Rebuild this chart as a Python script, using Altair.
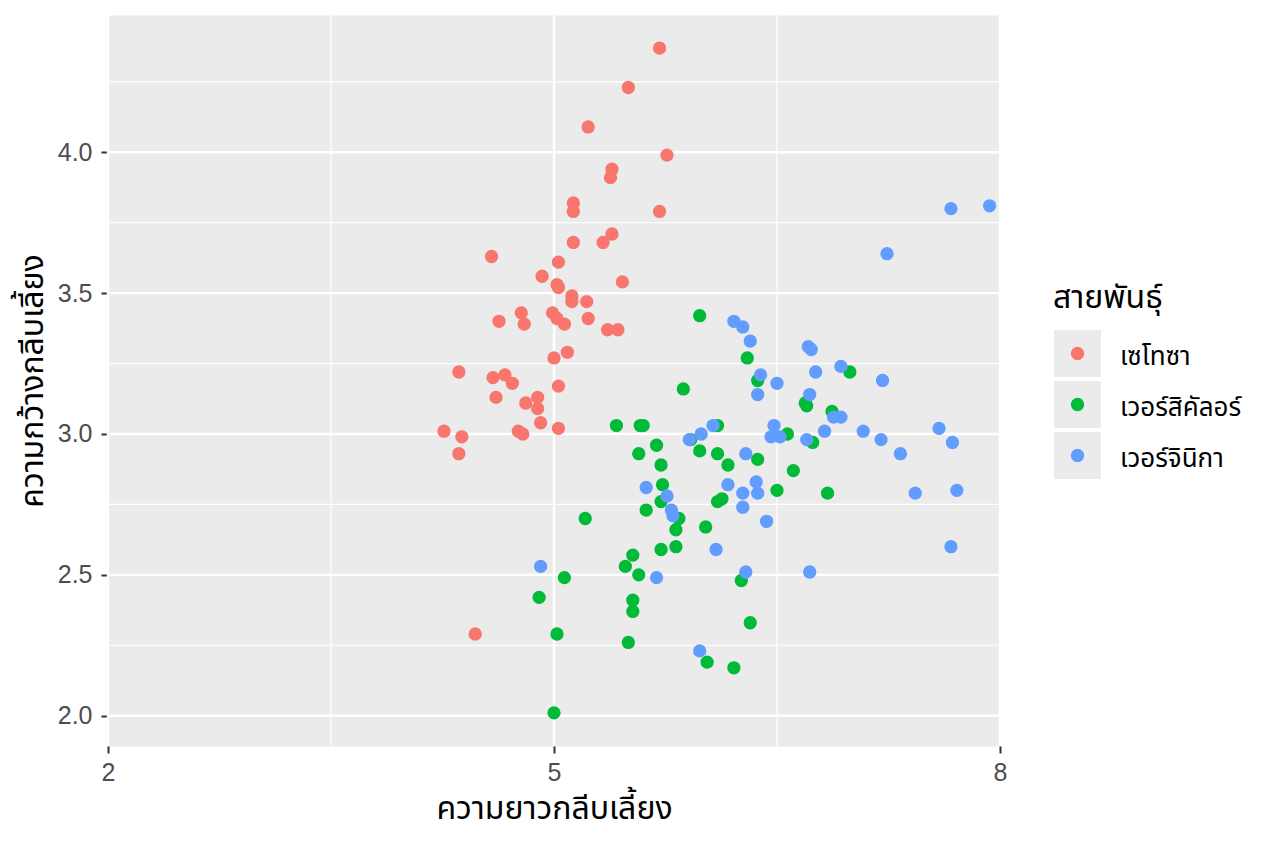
import altair as alt
import pandas as pd

# ---- categories / colours ----
species_names = ["เซโทซา", "เวอร์สิคัลอร์", "เวอร์จินิกา"]
species_colors = ["#F8766D", "#00BA38", "#619CFF"]

# ---- series values (sepal length, sepal width; jittered as in the picture) ----
setosa_x = [5.71, 5.50, 5.23, 5.76, 5.39, 5.38, 5.71, 5.13, 5.13, 5.13,
            5.33, 5.39, 4.58, 5.03, 5.46, 4.92, 5.02, 5.03, 5.12, 5.12,
            5.22, 4.78, 4.99, 5.02, 5.07, 4.80, 4.63, 5.23, 5.36, 5.43,
            5.09, 5.00, 4.36, 4.67, 4.59, 4.72, 5.03, 4.61, 4.81, 4.89,
            4.89, 4.91, 4.76, 4.79, 4.26, 4.38, 5.03, 4.36, 4.47]
setosa_y = [4.37, 4.23, 4.09, 3.99, 3.94, 3.91, 3.79, 3.82, 3.79, 3.68,
            3.68, 3.71, 3.63, 3.61, 3.54, 3.56, 3.53, 3.52, 3.49, 3.47,
            3.47, 3.43, 3.43, 3.41, 3.39, 3.39, 3.40, 3.41, 3.37, 3.37,
            3.29, 3.27, 3.22, 3.21, 3.20, 3.18, 3.17, 3.13, 3.11, 3.13,
            3.09, 3.04, 3.01, 3.00, 3.01, 2.99, 3.02, 2.93, 2.29]

versicolor_x = [5.98, 6.30, 6.37, 5.87, 5.42, 5.58, 5.60, 6.10, 5.92, 6.57,
                6.74, 5.69, 5.57, 5.98, 6.10, 6.17, 6.37, 5.72, 6.61, 5.73,
                6.50, 6.10, 6.13, 5.72, 5.62, 5.84, 5.82, 5.72, 5.82, 6.02,
                6.26, 5.21, 5.53, 5.48, 5.57, 5.07, 4.90, 5.53, 5.53, 5.02,
                5.50, 6.03, 6.21, 5.00, 6.32, 6.69, 6.70, 6.87, 6.84, 6.99]
versicolor_y = [3.42, 3.27, 3.19, 3.16, 3.03, 3.03, 3.03, 3.03, 2.98, 3.00,
                2.97, 2.96, 2.93, 2.94, 2.93, 2.89, 2.91, 2.89, 2.87, 2.82,
                2.80, 2.76, 2.77, 2.76, 2.73, 2.70, 2.66, 2.59, 2.60, 2.67,
                2.48, 2.70, 2.57, 2.53, 2.50, 2.49, 2.42, 2.41, 2.37, 2.29,
                2.26, 2.19, 2.17, 2.01, 2.33, 3.11, 3.10, 3.08, 2.79, 3.22]

virginica_x = [6.21, 6.27, 6.32, 6.71, 6.73, 6.76, 6.39, 6.50, 6.37, 6.72,
               6.07, 5.99, 5.91, 6.48, 6.46, 6.52, 6.70, 6.29, 5.62, 5.76,
               6.17, 6.36, 6.37, 6.27, 5.79, 5.80, 5.69, 6.27, 6.43, 6.09,
               6.29, 6.72, 4.91, 5.98, 6.88, 6.93, 7.21, 6.82, 7.08, 7.20,
               7.33, 7.59, 7.68, 7.43, 7.71, 7.67, 7.67, 7.93, 7.24, 6.93]
virginica_y = [3.40, 3.38, 3.33, 3.31, 3.30, 3.22, 3.21, 3.18, 3.14, 3.14,
               3.03, 3.00, 2.98, 3.03, 2.99, 2.99, 2.98, 2.93, 2.81, 2.78,
               2.82, 2.83, 2.79, 2.79, 2.73, 2.71, 2.49, 2.74, 2.69, 2.59,
               2.51, 2.51, 2.53, 2.23, 3.06, 3.06, 3.19, 3.01, 3.01, 2.98,
               2.93, 3.02, 2.97, 2.79, 2.80, 2.60, 3.80, 3.81, 3.64, 3.24]

# ---- axes / grid values ----
x_domain = [2, 8]
y_domain = [1.8924, 4.4874]
x_major = [2, 5, 8]
x_minor = [3.5, 6.5]
y_major = [2.0, 2.5, 3.0, 3.5, 4.0]
y_minor = [2.25, 2.75, 3.25, 3.75, 4.25]

x_title = "ความยาวกลีบเลี้ยง"
y_title = "ความกว้างกลีบเลี้ยง"
legend_title = "สายพันธุ์"

THAI_FONT = "'Noto Sans Thai', 'Noto Sans Thai UI', 'Noto Sans', 'Liberation Sans', sans-serif"
NUM_FONT = "'Liberation Sans', Arial, sans-serif"

df = pd.DataFrame({
    "x": setosa_x + versicolor_x + virginica_x,
    "y": setosa_y + versicolor_y + virginica_y,
    "species": [species_names[0]] * len(setosa_x)
    + [species_names[1]] * len(versicolor_x)
    + [species_names[2]] * len(virginica_x),
})
legend_df = pd.DataFrame({"species": species_names})

x_scale = alt.Scale(domain=x_domain, nice=False, zero=False)
y_scale = alt.Scale(domain=y_domain, nice=False, zero=False)
color_scale = alt.Scale(domain=species_names, range=species_colors)
# legend rows: pixel band for the three legend keys (right of the panel)
legend_y_scale = alt.Scale(type="point", domain=species_names,
                           range=[338.5, 440.5], padding=0)

x_axis = alt.Axis(values=x_major, format="d", title=x_title, grid=False,
                  domain=False, tickColor="#333333", tickWidth=2, tickSize=7,
                  labelColor="#4d4d4d", labelFontSize=25, labelFont=NUM_FONT,
                  labelPadding=7, labelFlush=False, titleFont=THAI_FONT,
                  titleFontSize=32, titleFontWeight="normal", titleColor="black",
                  titlePadding=8)
y_axis = alt.Axis(values=y_major, format=".1f", title=y_title, grid=False,
                  domain=False, tickColor="#333333", tickWidth=2, tickSize=7,
                  labelColor="#4d4d4d", labelFontSize=25, labelFont=NUM_FONT,
                  labelPadding=9, labelFlush=False, titleFont=THAI_FONT,
                  titleFontSize=32, titleFontWeight="normal", titleColor="black",
                  titlePadding=8)


def hrules(values, width):
    return alt.Chart(pd.DataFrame({"v": values})).mark_rule(
        color="white", strokeWidth=width
    ).encode(y=alt.Y("v:Q", scale=y_scale, axis=None))


def vrules(values, width):
    return alt.Chart(pd.DataFrame({"v": values})).mark_rule(
        color="white", strokeWidth=width
    ).encode(x=alt.X("v:Q", scale=x_scale, axis=x_axis))


points = alt.Chart(df).mark_circle(size=177, opacity=1).encode(
    x=alt.X("x:Q", scale=x_scale, axis=x_axis),
    y=alt.Y("y:Q", scale=y_scale, axis=y_axis),
    color=alt.Color("species:N", scale=color_scale, legend=None),
)

legend_base = alt.Chart(legend_df)
legend_keys = legend_base.mark_square(size=47 * 47, color="#ebebeb", opacity=1).encode(
    x=alt.value(969.5),
    y=alt.Y("species:N", scale=legend_y_scale, axis=None),
)
legend_dots = legend_base.mark_circle(size=177, opacity=1).encode(
    x=alt.value(969.5),
    y=alt.Y("species:N", scale=legend_y_scale, axis=None),
    color=alt.Color("species:N", scale=color_scale, legend=None),
)
legend_labels = legend_base.mark_text(
    align="left", baseline="middle", fontSize=26, font=THAI_FONT,
    color="black", dy=3,
).encode(
    x=alt.value(1012),
    y=alt.Y("species:N", scale=legend_y_scale, axis=None),
    text="species:N",
)
legend_title_mark = alt.Chart(pd.DataFrame({"t": [legend_title]})).mark_text(
    align="left", baseline="middle", fontSize=32, font=THAI_FONT, color="black",
).encode(x=alt.value(945), y=alt.value(283), text="t:N")

chart = alt.layer(
    hrules(y_minor, 1.2), vrules(x_minor, 1.2),
    hrules(y_major, 2.4), vrules(x_major, 2.4),
    points,
    legend_keys, legend_dots, legend_labels, legend_title_mark,
).resolve_scale(y="independent").properties(
    width=892, height=731,
    autosize=alt.AutoSizeParams(type="none"),
    padding={"left": 100, "top": 7, "right": 250, "bottom": 90},
    background="white",
).configure_view(fill="#ebebeb", stroke="transparent")

chart.save("out.html", embed_options={"renderer": "svg", "actions": False})
